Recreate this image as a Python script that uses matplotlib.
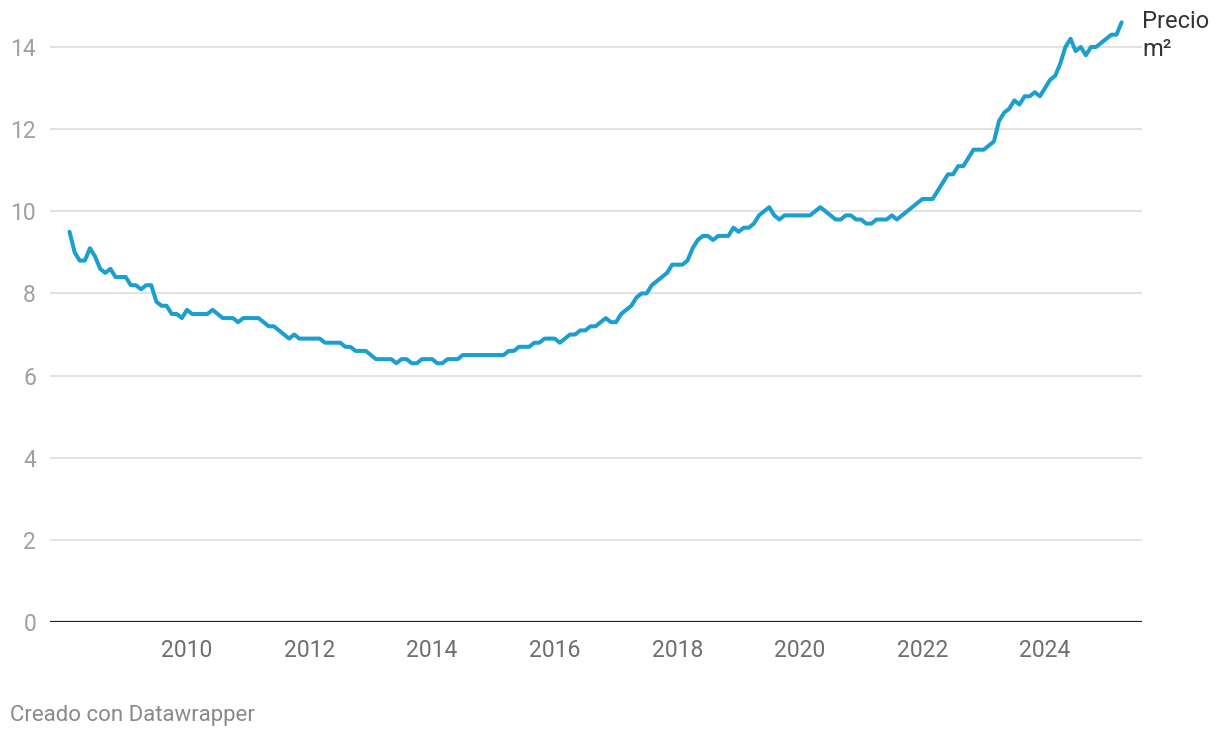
import matplotlib
matplotlib.use("Agg")
import matplotlib.pyplot as plt
import numpy as np

# Monthly price per m2, Feb 2008 .. Apr 2025
v2008 = [9.5, 9.0, 8.8, 8.8, 9.1, 8.9, 8.6, 8.5, 8.6, 8.4, 8.4]  # Feb-Dec
v2009 = [8.4, 8.2, 8.2, 8.1, 8.2, 8.2, 7.8, 7.7, 7.7, 7.5, 7.5, 7.4]
v2010 = [7.6, 7.5, 7.5, 7.5, 7.5, 7.6, 7.5, 7.4, 7.4, 7.4, 7.3, 7.4]
v2011 = [7.4, 7.4, 7.4, 7.3, 7.2, 7.2, 7.1, 7.0, 6.9, 7.0, 6.9, 6.9]
v2012 = [6.9, 6.9, 6.9, 6.8, 6.8, 6.8, 6.8, 6.7, 6.7, 6.6, 6.6, 6.6]
v2013 = [6.5, 6.4, 6.4, 6.4, 6.4, 6.3, 6.4, 6.4, 6.3, 6.3, 6.4, 6.4]
v2014 = [6.4, 6.3, 6.3, 6.4, 6.4, 6.4, 6.5, 6.5, 6.5, 6.5, 6.5, 6.5]
v2015 = [6.5, 6.5, 6.5, 6.6, 6.6, 6.7, 6.7, 6.7, 6.8, 6.8, 6.9, 6.9]
v2016 = [6.9, 6.8, 6.9, 7.0, 7.0, 7.1, 7.1, 7.2, 7.2, 7.3, 7.4, 7.3]
v2017 = [7.3, 7.5, 7.6, 7.7, 7.9, 8.0, 8.0, 8.2, 8.3, 8.4, 8.5, 8.7]
v2018 = [8.7, 8.7, 8.8, 9.1, 9.3, 9.4, 9.4, 9.3, 9.4, 9.4, 9.4, 9.6]
v2019 = [9.5, 9.6, 9.6, 9.7, 9.9, 10.0, 10.1, 9.9, 9.8, 9.9, 9.9, 9.9]
v2020 = [9.9, 9.9, 9.9, 10.0, 10.1, 10.0, 9.9, 9.8, 9.8, 9.9, 9.9, 9.8]
v2021 = [9.8, 9.7, 9.7, 9.8, 9.8, 9.8, 9.9, 9.8, 9.9, 10.0, 10.1, 10.2]
v2022 = [10.3, 10.3, 10.3, 10.5, 10.7, 10.9, 10.9, 11.1, 11.1, 11.3, 11.5, 11.5]
v2023 = [11.5, 11.6, 11.7, 12.2, 12.4, 12.5, 12.7, 12.6, 12.8, 12.8, 12.9, 12.8]
v2024 = [13.0, 13.2, 13.3, 13.6, 14.0, 14.2, 13.9, 14.0, 13.8, 14.0, 14.0, 14.1]
v2025 = [14.2, 14.3, 14.3, 14.6]  # Jan-Apr

values = (v2008 + v2009 + v2010 + v2011 + v2012 + v2013 + v2014 + v2015 +
          v2016 + v2017 + v2018 + v2019 + v2020 + v2021 + v2022 + v2023 +
          v2024 + v2025)
start_year, start_month = 2008, 2
dates = np.array([start_year + (start_month - 1 + i) / 12 for i in range(len(values))])

x_ticks = [2010, 2012, 2014, 2016, 2018, 2020, 2022, 2024]
y_ticks = [0, 2, 4, 6, 8, 10, 12, 14]
series_label = "Precio\nm²"
credit = "Creado con Datawrapper"

plt.rcParams['font.family'] = ['Roboto', 'DejaVu Sans']

W, H = 1220, 738
fig = plt.figure(figsize=(W / 100, H / 100), dpi=100)
L, R, B, T = 50, 1142, 622, 20
ax = fig.add_axes([L / W, 1 - B / H, (R - L) / W, (B - T) / H])

px_per_year = (1045 - 187) / 14
x0 = 2010 - (187 - L) / px_per_year
x1 = 2010 + (R - 187) / px_per_year
ax.set_xlim(x0, x1)
px_per_unit = (622 - 47) / 14
ax.set_ylim(0, (B - T) / px_per_unit)

for s in ax.spines.values():
    s.set_visible(False)

for yv in y_ticks[1:]:
    ax.axhline(yv, color='#e2e2e2', lw=1.4, zorder=1)
ax.axhline(0, color='#222222', lw=1.6, zorder=3)

ax.plot(dates, values, color='#1b9fcf', lw=2.9, solid_joinstyle='round',
        solid_capstyle='round', zorder=4, clip_on=False)

ax.set_xticks(x_ticks)
ax.set_xticklabels([str(t) for t in x_ticks])
ax.set_yticks(y_ticks)
ax.set_yticklabels([str(t) for t in y_ticks])
ax.tick_params(axis='x', length=0, pad=12.5, labelsize=16.5, labelcolor='#6e6e6e')
ax.tick_params(axis='y', length=0, pad=10, labelsize=16.5, labelcolor='#a0a0a0')

fig.text(1142 / W, 1 - 10 / H, series_label, ha='left', va='top', fontsize=17,
         color='#333333', linespacing=1.3)
fig.text(10 / W, 1 - 716 / H, credit, ha='left', va='center', fontsize=16,
         color='#8a8a8a')

fig.savefig('out.png', dpi=100)
